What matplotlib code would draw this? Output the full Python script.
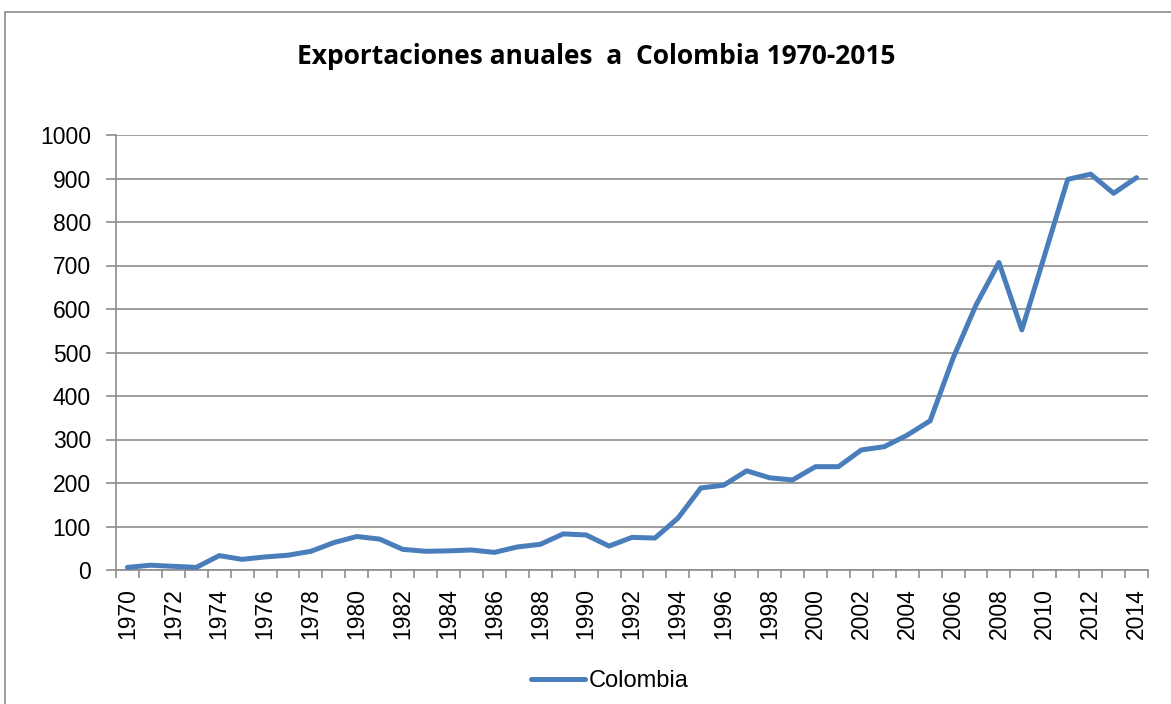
import matplotlib
matplotlib.use('Agg')
import matplotlib.pyplot as plt
import matplotlib.patches as patches
import numpy as np

# Data
years = list(range(1970, 2015))
colombia = [6, 11, 8.5, 6, 33, 24.5, 30, 34, 43, 63,
            77, 71, 47.5, 43, 44, 46, 40.5, 53, 59, 83,
            80.5, 55, 75, 73.5, 119, 188.5, 195, 228, 212, 207,
            237.5, 237.5, 276, 283.5, 310, 343, 487, 609, 707, 552,
            725, 898, 910, 866, 902]
yticks = list(range(0, 1001, 100))
xlabels = [str(y) for y in range(1970, 2015, 2)]

W, H = 1171, 704
fig = plt.figure(figsize=(W / 100, H / 100), dpi=100)
fig.patch.set_facecolor('white')

# outer chart border (Excel style)
fig.add_artist(patches.Rectangle((5 / W, -0.01), 1.2, 1 - 12 / H + 0.01,
                                 transform=fig.transFigure, fill=False,
                                 ec='#8c8c8c', lw=1.2))

ax = fig.add_axes([116 / W, 1 - 570 / H, (1148 - 116) / W, (570 - 135) / H])

ax.plot(years, colombia, color='#4a7ebb', lw=3.6, solid_joinstyle='round',
        solid_capstyle='round', label='Colombia', zorder=3)

ax.set_xlim(1969.5, 2014.5)
ax.set_ylim(0, 1000)
ax.set_yticks(yticks)
ax.set_yticklabels([str(v) for v in yticks], fontsize=16.5, family='Liberation Sans')
ax.yaxis.grid(True, color='#8c8c8c', lw=1.2)
ax.set_axisbelow(True)

ax.set_xticks(range(1970, 2015, 2))
ax.set_xticklabels(xlabels, rotation=90, fontsize=16.5, family='Liberation Sans')
ax.set_xticks(np.arange(1969.5, 2015, 1), minor=True)
ax.tick_params(axis='x', which='major', length=0, pad=13)
ax.tick_params(axis='x', which='minor', length=5.5, color='#8c8c8c', width=1.2)
ax.tick_params(axis='y', length=7, color='#8c8c8c', width=1.2, pad=11)

for s in ['top', 'right']:
    ax.spines[s].set_visible(False)
for s in ['left', 'bottom']:
    ax.spines[s].set_color('#8c8c8c')
    ax.spines[s].set_linewidth(1.2)

fig.text(596 / W, 1 - 56 / H, 'Exportaciones anuales  a  Colombia 1970-2015',
         ha='center', va='center', fontsize=19, fontweight='bold',
         family='Open Sans')

leg = fig.legend(loc='center', bbox_to_anchor=(610 / W, 1 - 681 / H),
                 frameon=False, handlelength=2.3, handletextpad=0.15,
                 prop={'family': 'Liberation Sans', 'size': 17})

fig.savefig('out.png', dpi=100)
